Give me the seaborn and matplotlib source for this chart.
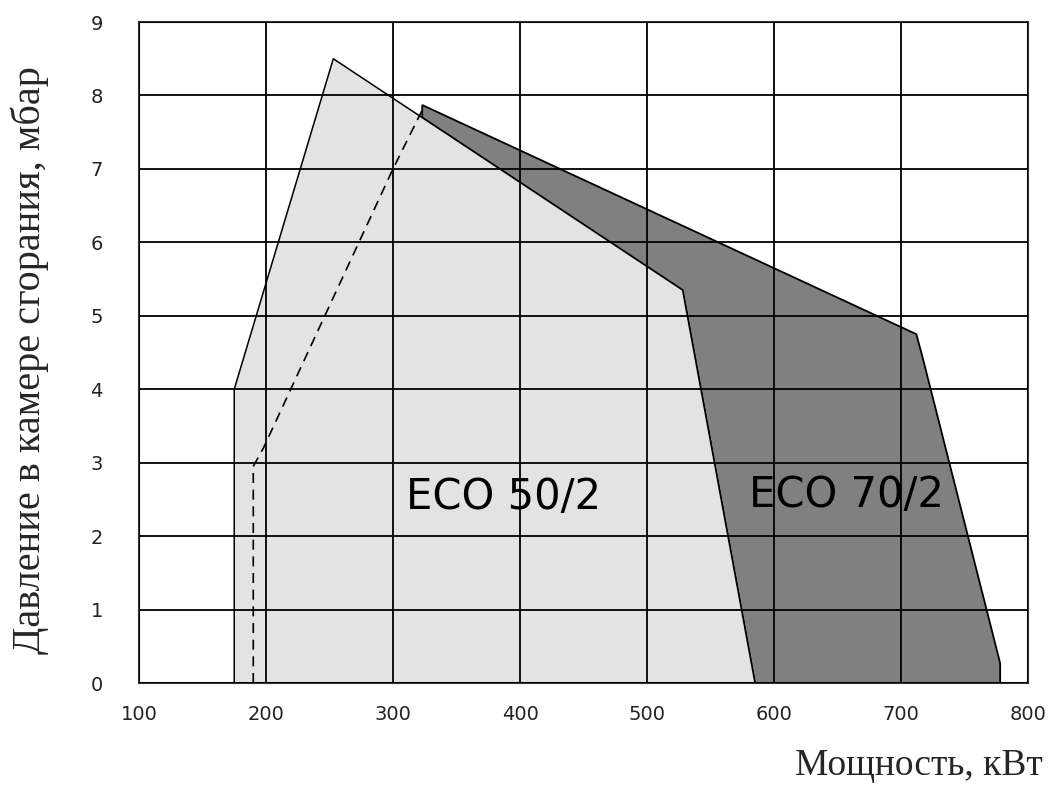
import matplotlib
matplotlib.use("Agg")
import matplotlib.pyplot as plt
import seaborn as sns
import pandas as pd

# outline of ECO 50/2 working field (power kW, pressure mbar)
eco50_x = [175, 175, 253, 528, 585]
eco50_y = [0, 4.0, 8.5, 5.35, 0]

# outline of ECO 70/2 working field
eco70_x = [323, 323, 712, 717, 778, 778, 585, 528]
eco70_y = [7.7, 7.87, 4.75, 4.43, 0.27, 0, 0, 5.35]

# dashed boundary
dash_x = [190, 190, 198, 300, 323]
dash_y = [0, 2.95, 3.2, 7.0, 7.8]

x_ticks = [100, 200, 300, 400, 500, 600, 700, 800]
y_ticks = [0, 1, 2, 3, 4, 5, 6, 7, 8, 9]

sns.set_theme(style="white")
plt.rcParams['font.family'] = ['DejaVu Sans']

fig = plt.figure(figsize=(10.48, 7.92), dpi=100)
ax = fig.add_axes([0.1326, 0.1376, 0.981 - 0.1326, 0.9722 - 0.1376])

# dark field first, light one on top
ax.fill(eco70_x, eco70_y, facecolor="#808080", edgecolor="black", linewidth=1.3, zorder=1)
ax.fill(eco50_x, eco50_y, facecolor="#e3e3e3", edgecolor="black", linewidth=1.1, zorder=1.2)

dash_df = pd.DataFrame({"x": dash_x, "y": dash_y})
sns.lineplot(data=dash_df, x="x", y="y", sort=False, estimator=None, ax=ax,
             color="black", linewidth=1.2, dashes=False, zorder=1.5)
ax.lines[-1].set_dashes((6, 4))

ax.set_xlim(100, 800)
ax.set_ylim(0, 9)
ax.set_xticks(x_ticks)
ax.set_yticks(y_ticks)
ax.grid(True, color="black", linewidth=1.3)
ax.set_axisbelow(False)
for sp in ax.spines.values():
    sp.set_color("#333333")
    sp.set_linewidth(1.5)
ax.tick_params(axis="both", length=0, labelsize=14, colors="#222222")
ax.tick_params(axis="x", pad=16)
ax.tick_params(axis="y", pad=26)
ax.set_xlabel("")
ax.set_ylabel("")

ax.text(387, 2.53, "ECO 50/2", fontsize=30, ha="center", va="center", color="black", zorder=3)
ax.text(657, 2.56, "ECO 70/2", fontsize=30, ha="center", va="center", color="black", zorder=3)

fig.text(0.995, 0.022, "Мощность, кВт", family=["Liberation Serif"], fontsize=27,
         ha="right", va="baseline")
fig.text(0.028, 0.545, "Давление в камере сгорания, мбар", family=["Liberation Serif"],
         fontsize=29, rotation=90, ha="center", va="center")

fig.savefig("out.png", dpi=100)
